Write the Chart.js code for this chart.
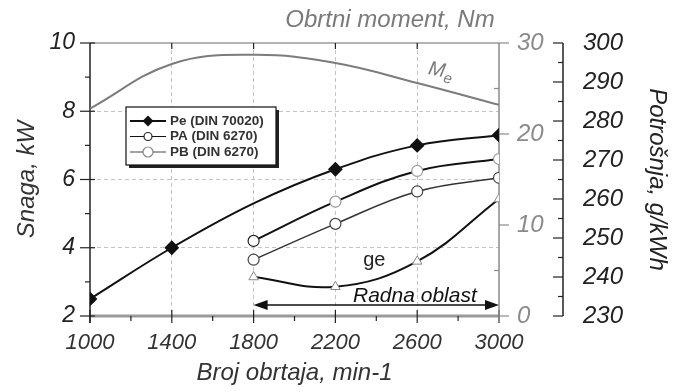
<!DOCTYPE html>
<html>
<head>
<meta charset="utf-8">
<script src="https://cdn.jsdelivr.net/npm/chart.js@4/dist/chart.umd.min.js"></script>
<style>
  body { margin: 0; background: #fff; }
  #wrap { width: 674px; height: 392px; }
</style>
</head>
<body>
<div id="wrap"><canvas id="motorChart" width="674" height="392"></canvas></div>
<script>
'use strict';
// podaci očitani sa dijagrama
const rpm = [1000, 1400, 1800, 2200, 2600, 3000];
const rpmWork = [1800, 2200, 2600, 3000];
const peValues = [2.5, 4.0, 5.3, 6.3, 7.0, 7.3];     // Pe (DIN 70020), kW
const paValues = [4.2, 5.35, 6.25, 6.6];            // gornja kriva sa kružićima
const pbValues = [3.65, 4.7, 5.65, 6.05];           // donja kriva sa kružićima
const geValues = [240, 237.5, 244, 260];            // potrošnja, g/kWh
const meValues = [22.8, 27.7, 28.7, 27.8, 25.6, 23.2]; // obrtni moment, Nm
const xTicks = [1000, 1400, 1800, 2200, 2600, 3000];

const FONT = "'Liberation Sans', Arial, sans-serif";

function toPoints(xs, ys) {
  return xs.map((v, i) => ({x: v, y: ys[i]}));
}

function line(ctx, x1, y1, x2, y2) {
  ctx.beginPath();
  ctx.moveTo(x1, y1);
  ctx.lineTo(x2, y2);
  ctx.stroke();
}

function diamond(ctx, cx, cy, r) {
  ctx.beginPath();
  ctx.moveTo(cx, cy - r);
  ctx.lineTo(cx + r, cy);
  ctx.lineTo(cx, cy + r);
  ctx.lineTo(cx - r, cy);
  ctx.closePath();
  ctx.fill();
}

function circle(ctx, cx, cy, r, color) {
  ctx.beginPath();
  ctx.arc(cx, cy, r, 0, Math.PI * 2);
  ctx.fillStyle = '#fff';
  ctx.fill();
  ctx.strokeStyle = color;
  ctx.lineWidth = 1.2;
  ctx.stroke();
}

// ose, crtice i okvir ispod krivih
const axesPlugin = {
  id: 'axesPlugin',
  beforeDatasetsDraw(chart) {
    const ctx = chart.ctx;
    const {left, right, top, bottom} = chart.chartArea;
    const sx = chart.scales.x, sy = chart.scales.y, s2 = chart.scales.y2, s3 = chart.scales.y3;
    ctx.save();

    ctx.strokeStyle = '#b4b4b4';
    ctx.lineWidth = 2;
    line(ctx, left, top, right, top);

    ctx.strokeStyle = '#9a9a9a';
    ctx.lineWidth = 3;
    line(ctx, left, bottom, right, bottom);

    ctx.strokeStyle = '#222';
    ctx.lineWidth = 1.2;
    for (let v = 1000; v <= 3000; v += 200) {
      const px = sx.getPixelForValue(v);
      if ((v - 1000) % 400 === 0) {
        line(ctx, px, bottom - 6, px, bottom + 7);
        if (v > 1000 && v < 3000) line(ctx, px, top, px, top + 6);
      } else {
        line(ctx, px, bottom, px, bottom + 5);
      }
    }

    // leva osa
    ctx.lineWidth = 1.5;
    line(ctx, left, top, left, bottom + 7);
    ctx.lineWidth = 1.2;
    for (let v = 2; v <= 10; v++) {
      const py = sy.getPixelForValue(v);
      if (v % 2 === 0) line(ctx, left - 10, py, left + 5, py);
      else line(ctx, left - 5, py, left, py);
    }

    // osa momenta
    ctx.strokeStyle = '#8a8a8a';
    ctx.lineWidth = 1.5;
    line(ctx, right, top, right, bottom + 6);
    ctx.lineWidth = 1.2;
    for (let v = 0; v <= 30; v += 5) {
      const py = s2.getPixelForValue(v);
      if (v % 10 === 0) line(ctx, right, py, right + 10, py);
      else line(ctx, right - 5, py, right, py);
    }

    // osa potrošnje
    const ax = s3.left;
    ctx.strokeStyle = '#222';
    ctx.lineWidth = 1.5;
    line(ctx, ax, top, ax, bottom);
    ctx.lineWidth = 1.2;
    for (let v = 230; v <= 300; v += 5) {
      const py = s3.getPixelForValue(v);
      if (v % 10 === 0) line(ctx, ax - 10, py, ax, py);
      else line(ctx, ax - 5, py, ax, py);
    }
    ctx.restore();
  },

  afterDatasetsDraw(chart) {
    const ctx = chart.ctx;
    const sx = chart.scales.x, s2 = chart.scales.y2, s3 = chart.scales.y3;
    ctx.save();

    // naslov gornje ose
    ctx.fillStyle = '#7a7a7a';
    ctx.font = 'italic 24px ' + FONT;
    ctx.textAlign = 'center';
    ctx.textBaseline = 'alphabetic';
    ctx.fillText('Obrtni moment, Nm', 390, 27);

    // Me
    ctx.save();
    ctx.translate(sx.getPixelForValue(2650), s2.getPixelForValue(26.6));
    ctx.rotate(0.2);
    ctx.textAlign = 'left';
    ctx.font = 'italic 20px ' + FONT;
    ctx.fillText('M', 0, 0);
    const mw = ctx.measureText('M').width;
    ctx.font = 'italic 15px ' + FONT;
    ctx.fillText('e', mw, 5);
    ctx.restore();

    // ge
    ctx.fillStyle = '#222';
    ctx.font = '20px ' + FONT;
    ctx.textAlign = 'center';
    ctx.fillText('ge', sx.getPixelForValue(2390), s3.getPixelForValue(242.8));

    // radna oblast
    const ay = s3.getPixelForValue(232.8);
    const x1 = sx.getPixelForValue(1800), x2 = sx.getPixelForValue(3000);
    ctx.strokeStyle = '#111';
    ctx.fillStyle = '#111';
    ctx.lineWidth = 1.5;
    line(ctx, x1 + 8, ay, x2 - 8, ay);
    ctx.beginPath();
    ctx.moveTo(x1, ay); ctx.lineTo(x1 + 14, ay - 5); ctx.lineTo(x1 + 14, ay + 5); ctx.closePath();
    ctx.fill();
    ctx.beginPath();
    ctx.moveTo(x2, ay); ctx.lineTo(x2 - 14, ay - 5); ctx.lineTo(x2 - 14, ay + 5); ctx.closePath();
    ctx.fill();
    ctx.font = 'italic 21px ' + FONT;
    ctx.textAlign = 'left';
    ctx.fillText('Radna oblast', 353, ay - 3);

    // legenda
    const lx = 126, ly = 107, lw = 150, lh = 58;
    ctx.fillStyle = '#222';
    ctx.fillRect(lx + 3, ly + 3, lw, lh);
    ctx.fillStyle = '#fff';
    ctx.fillRect(lx, ly, lw, lh);
    ctx.strokeStyle = '#111';
    ctx.lineWidth = 1.2;
    ctx.strokeRect(lx, ly, lw, lh);

    const rows = [
      {text: 'Pe (DIN 70020)', y: 121},
      {text: 'PA (DIN 6270)', y: 136.5},
      {text: 'PB (DIN 6270)', y: 152}
    ];
    rows.forEach((row, i) => {
      ctx.strokeStyle = i === 2 ? '#444' : '#111';
      ctx.lineWidth = i === 0 ? 2 : 1.2;
      line(ctx, lx + 4, row.y, lx + 40, row.y);
      if (i === 0) {
        ctx.fillStyle = '#111';
        diamond(ctx, lx + 22, row.y, 5.5);
      } else if (i === 1) {
        circle(ctx, lx + 22, row.y, 4, '#222');
      } else {
        circle(ctx, lx + 22, row.y, 5, '#888');
      }
      ctx.fillStyle = '#333';
      ctx.font = 'bold 13.5px ' + FONT;
      ctx.textAlign = 'left';
      ctx.textBaseline = 'middle';
      ctx.fillText(row.text, lx + 44, row.y);
    });
    ctx.restore();
  }
};

const tickFont = (size) => ({family: FONT, size: size, style: 'italic'});

const ctxL = document.getElementById('motorChart').getContext('2d');
const motorChart = new Chart(ctxL, {
  type: 'line',
  data: {
    datasets: [
      {
        label: 'Pe (DIN 70020)',
        data: toPoints(rpm, peValues),
        yAxisID: 'y',
        borderColor: '#111',
        borderWidth: 2,
        pointStyle: 'rectRot',
        pointRadius: [6, 6, 0, 6, 6, 6],
        pointBackgroundColor: '#111',
        pointBorderColor: '#111',
        tension: 0.4
      },
      {
        label: 'PA (DIN 6270)',
        data: toPoints(rpmWork, paValues),
        yAxisID: 'y',
        borderColor: '#111',
        borderWidth: 2,
        pointRadius: 5.5,
        pointBackgroundColor: '#fff',
        pointBorderColor: ['#222', '#999', '#999', '#999'],
        pointBorderWidth: 1.2,
        tension: 0.4
      },
      {
        label: 'PB (DIN 6270)',
        data: toPoints(rpmWork, pbValues),
        yAxisID: 'y',
        borderColor: '#333',
        borderWidth: 1.5,
        pointRadius: 5.5,
        pointBackgroundColor: '#fff',
        pointBorderColor: '#444',
        pointBorderWidth: 1.2,
        tension: 0.4
      },
      {
        label: 'ge',
        data: toPoints(rpmWork, geValues),
        yAxisID: 'y3',
        borderColor: '#111',
        borderWidth: 2,
        pointStyle: 'triangle',
        pointRadius: 5.5,
        pointBackgroundColor: '#fff',
        pointBorderColor: '#888',
        pointBorderWidth: 1,
        tension: 0.4
      },
      {
        label: 'Me',
        data: toPoints(rpm, meValues),
        yAxisID: 'y2',
        borderColor: '#7c7c7c',
        borderWidth: 2,
        pointRadius: 0,
        tension: 0.4
      }
    ]
  },
  options: {
    responsive: false,
    animation: false,
    layout: {padding: {top: 43, left: 0, right: 0, bottom: 0}},
    plugins: {legend: {display: false}, tooltip: {enabled: false}},
    scales: {
      x: {
        type: 'linear',
        min: 1000,
        max: 3000,
        afterBuildTicks: (s) => { s.ticks = xTicks.map(v => ({value: v})); },
        afterFit: (s) => { s.height = 76; },
        ticks: {
          color: '#333',
          font: tickFont(22),
          padding: 14,
          maxRotation: 0,
          callback: (v) => String(v)
        },
        grid: {
          drawTicks: false,
          lineWidth: 1,
          color: (c) => (c.tick && c.tick.value > 1000 && c.tick.value < 3000) ? '#c4c4c4' : 'rgba(0,0,0,0)'
        },
        border: {display: false, dash: [4, 3]},
        title: {
          display: true,
          text: 'Broj obrtaja, min-1',
          color: '#333',
          font: tickFont(24),
          padding: {top: 0, bottom: 4}
        }
      },
      y: {
        position: 'left',
        min: 2,
        max: 10,
        afterFit: (s) => { s.width = 90; },
        ticks: {stepSize: 2, color: '#222', font: tickFont(23), padding: 15},
        grid: {
          drawTicks: false,
          lineWidth: 1,
          color: (c) => (c.tick && c.tick.value > 2 && c.tick.value < 10) ? '#c4c4c4' : 'rgba(0,0,0,0)'
        },
        border: {display: false, dash: [4, 3]},
        title: {
          display: true,
          text: 'Snaga, kW',
          color: '#333',
          font: tickFont(24),
          padding: {top: 13, bottom: 0}
        }
      },
      y2: {
        position: 'right',
        weight: 0,
        min: 0,
        max: 30,
        afterFit: (s) => { s.width = 64; },
        ticks: {stepSize: 10, color: '#8a8a8a', font: tickFont(24), padding: 18},
        grid: {display: false, drawTicks: false},
        border: {display: false}
      },
      y3: {
        position: 'right',
        weight: 1,
        min: 230,
        max: 300,
        afterFit: (s) => { s.width = 111; },
        ticks: {stepSize: 10, color: '#222', font: tickFont(24), padding: 20},
        grid: {display: false, drawTicks: false},
        border: {display: false},
        title: {
          display: true,
          text: 'Potrošnja, g/kWh',
          color: '#222',
          font: tickFont(24),
          padding: {top: 3, bottom: 0}
        }
      }
    }
  },
  plugins: [axesPlugin]
});
</script>
</body>
</html>
